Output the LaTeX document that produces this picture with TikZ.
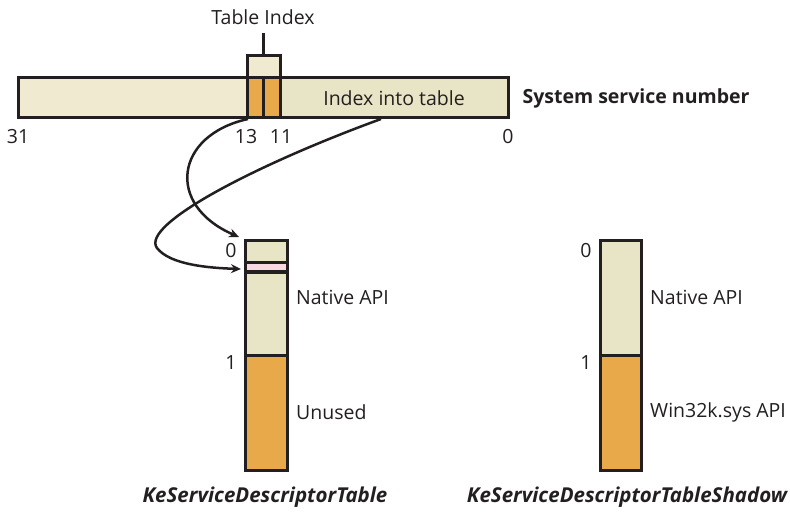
\documentclass[tikz,border=0pt]{standalone}
\usepackage{fontspec}
\setmainfont{Open Sans}
\usetikzlibrary{arrows.meta}
\definecolor{creamA}{HTML}{F0EBD0}
\definecolor{creamB}{HTML}{E8E4C6}
\definecolor{orangeC}{HTML}{E8A94B}
\definecolor{pinkC}{HTML}{F8D9E2}
\definecolor{inkC}{HTML}{231F20}
\begin{document}
\begin{tikzpicture}[x=1pt,y=-1pt,
  boxc/.style={draw=inkC,line width=3pt},
  lbl/.style={font=\fontsize{19.5}{23}\selectfont,text=inkC,inner sep=0pt},
  captxt/.style={font=\fontsize{20.5}{24}\selectfont\bfseries\itshape,text=inkC,inner sep=0pt},
  conn/.style={draw=inkC,line width=2.5pt,-{Stealth[length=10pt,width=9pt]}}]
\useasboundingbox (0,0) rectangle (790,513);
% service number bar
\filldraw[boxc,fill=creamA] (18,78) rectangle (247,118);
\filldraw[boxc,fill=creamB] (280,78) rectangle (508,118);
\filldraw[boxc,fill=orangeC] (247,78) rectangle (263,118);
\filldraw[boxc,fill=orangeC] (263,78) rectangle (280,118);
\filldraw[boxc,fill=creamA] (247,56) rectangle (280,78);
\coordinate (tiTop) at (263.5,33);
\coordinate (tiBot) at (263.5,56);
\draw[inkC,line width=2.5pt] (tiTop) -- (tiBot);
\node[lbl] (ti) at (263,17) {Table Index};
\node[lbl] (iit) at (394,98) {Index into table};
\node[lbl,font=\fontsize{19.5}{23}\selectfont\bfseries] (ssn) at (636,98) {System service number};
\node[lbl] (b31) at (18,137) {31};
\node[lbl] (b13) at (246,137) {13};
\node[lbl] (b11) at (281,137) {11};
\node[lbl] (b0) at (508,137) {0};
% left table
\filldraw[boxc,fill=creamB] (245,241) rectangle (287,355);
\filldraw[boxc,fill=pinkC] (245,263) rectangle (287,272);
\filldraw[boxc,fill=orangeC] (245,355) rectangle (287,470);
\node[lbl] (l0) at (231,251) {0};
\node[lbl] (l1) at (231,363) {1};
\node[lbl,anchor=west] (lna) at (296,297) {Native API};
\node[lbl,anchor=west] (lun) at (296,412) {Unused};
\node[captxt] (capL) at (265,497) {KeServiceDescriptorTable};
% right table
\filldraw[boxc,fill=creamB] (600,241) rectangle (641,355);
\filldraw[boxc,fill=orangeC] (600,355) rectangle (641,470);
\node[lbl] (r0) at (586,251) {0};
\node[lbl] (r1) at (586,363) {1};
\node[lbl,anchor=west] (rna) at (650,297) {Native API};
\node[lbl,anchor=west] (rwk) at (650,412) {Win32k.sys API};
\node[captxt] (capR) at (627,497) {KeServiceDescriptorTableShadow};
% connectors
\coordinate (s1) at (248,119);
\coordinate (e1) at (239,237);
\coordinate (s2) at (381,119);
\coordinate (e2) at (241,269);
\draw[conn] (s1) .. controls (175,135) and (165,205) .. (e1);
\draw[conn] (s2) .. controls (255,165) and (140,225) .. (157,248) .. controls (170,265) and (210,268) .. (e2);
\end{tikzpicture}
\end{document}
